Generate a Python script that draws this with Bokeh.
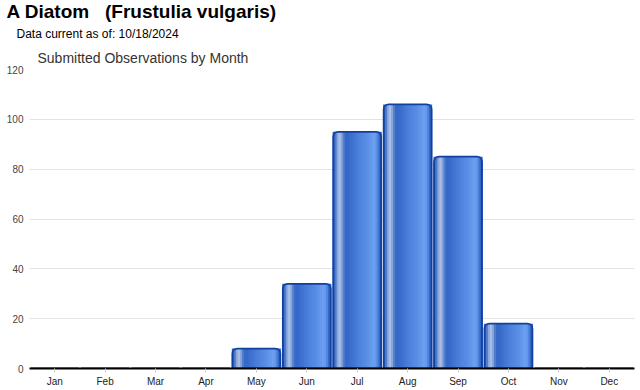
from bokeh.plotting import figure
from bokeh.models import ColumnDataSource, Range1d, Title, FixedTicker
from bokeh.transform import dodge
from bokeh.embed import file_html
from bokeh.resources import INLINE

months = ["Jan", "Feb", "Mar", "Apr", "May", "Jun", "Jul", "Aug", "Sep", "Oct", "Nov", "Dec"]
counts = [0, 0, 0, 0, 8, 34, 95, 106, 85, 18, 0, 0]
y_ticks = [0, 20, 40, 60, 80, 100, 120]

title_main = "A Diatom \u00a0 (Frustulia vulgaris)"
title_sub = "Data current as of: 10/18/2024"
chart_title = "Submitted Observations by Month"

FONT = "Liberation Sans"
LEFT, FW, FH = 29, 605, 299

src = ColumnDataSource(data=dict(idx=list(range(len(months))), count=counts, month=months))

p = figure(frame_width=FW, frame_height=FH, output_backend="svg", toolbar_location=None,
           x_range=Range1d(-0.5, len(months) - 0.5), y_range=Range1d(0, 120),
           min_border_left=LEFT, min_border_right=6, min_border_bottom=0, min_border_top=0)
p.outline_line_color = None
p.background_fill_color = "white"
p.border_fill_color = "white"

stops = [(0.00, (0x26, 0x54, 0xb4)), (0.06, (0x4a, 0x78, 0xcc)), (0.12, (0xa4, 0xba, 0xe2)),
         (0.16, (0xae, 0xc2, 0xe4)), (0.22, (0x5a, 0x84, 0xd0)), (0.28, (0x33, 0x64, 0xc4)),
         (0.50, (0x48, 0x7c, 0xd8)), (0.75, (0x5e, 0x92, 0xe8)), (0.88, (0x70, 0xa2, 0xf2)),
         (0.94, (0x4f, 0x84, 0xdd)), (1.00, (0x22, 0x56, 0xbb))]

def color_at(f):
    for (f0, c0), (f1, c1) in zip(stops[:-1], stops[1:]):
        if f0 <= f <= f1:
            t = (f - f0) / (f1 - f0) if f1 > f0 else 0
            c = [round(a + (b - a) * t) for a, b in zip(c0, c1)]
            return "#%02x%02x%02x" % tuple(c)
    return "#%02x%02x%02x" % stops[-1][1]

BAR_W = 0.95
p.vbar(x="idx", top="count", bottom=0, width=BAR_W, source=src,
       fill_color="#4a7ed8", line_color=None, border_radius=(5, 5, 0, 0))
N = 24
sw = BAR_W / N
for k in range(N):
    f = (k + 0.5) / N
    off = -BAR_W / 2 + (k + 0.5) * sw
    p.vbar(x=dodge("idx", off), top="count", bottom=0, width=sw * 1.6, source=src,
           fill_color=color_at(f), line_color=None)

p.vbar(x="idx", top="count", bottom=0, width=BAR_W, source=src, fill_color=None,
       line_color="#1040a0", line_width=1.8, border_radius=(5, 5, 0, 0))

p.xaxis.ticker = FixedTicker(ticks=list(range(len(months))))
p.xaxis.major_label_overrides = {i: m for i, m in enumerate(months)}
p.xaxis.axis_line_color = "black"
p.xaxis.axis_line_width = 2
p.xaxis.major_tick_in = 0
p.xaxis.major_tick_out = 4
p.xaxis.major_tick_line_color = "#cccccc"
p.xaxis.minor_tick_line_color = None
p.xaxis.major_label_text_font = FONT
p.xaxis.major_label_text_font_size = "10px"
p.xaxis.major_label_text_color = "#222222"
p.xaxis.major_label_standoff = 3

p.yaxis.ticker = FixedTicker(ticks=y_ticks)
p.yaxis.axis_line_color = None
p.yaxis.major_tick_line_color = None
p.yaxis.minor_tick_line_color = None
p.yaxis.major_tick_in = 0
p.yaxis.major_tick_out = 0
p.yaxis.minor_tick_in = 0
p.yaxis.minor_tick_out = 0
p.yaxis.major_label_text_font = FONT
p.yaxis.major_label_text_font_size = "10px"
p.yaxis.major_label_text_color = "#444444"
p.yaxis.major_label_standoff = 6

p.xgrid.grid_line_color = None
p.ygrid.grid_line_color = "#e3e3e3"
p.ygrid.grid_line_width = 1

t3 = Title(text=chart_title, align="left", text_font=FONT, text_font_size="14px",
           text_font_style="normal", text_color="#333333", offset=37 - LEFT, standoff=7)
t2 = Title(text=title_sub, align="left", text_font=FONT, text_font_size="12px",
           text_font_style="normal", text_color="#000000", offset=16 - LEFT, standoff=8)
t1 = Title(text=title_main, align="left", text_font=FONT, text_font_size="19px",
           text_font_style="bold", text_color="#000000", offset=6 - LEFT, standoff=-3)
p.add_layout(t3, "above")
p.add_layout(t2, "above")
p.add_layout(t1, "above")

open("out.html", "w").write(file_html(p, INLINE))
